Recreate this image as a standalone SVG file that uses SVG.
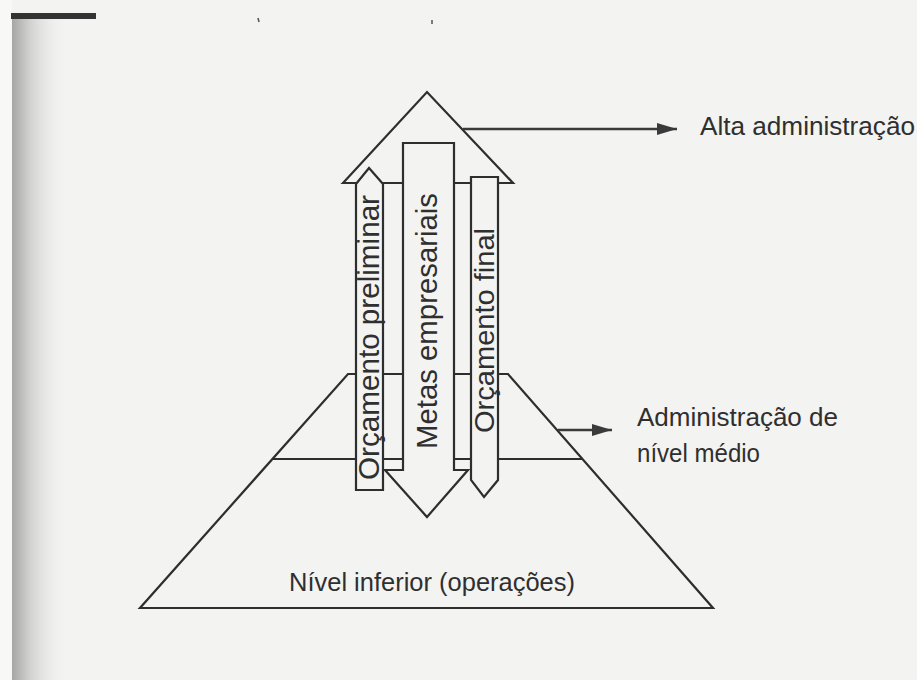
<svg xmlns="http://www.w3.org/2000/svg" width="917" height="680" viewBox="0 0 917 680">
  <defs>
    <linearGradient id="edge" x1="0" y1="0" x2="1" y2="0">
      <stop offset="0" stop-color="#a6a6a6"/>
      <stop offset="0.3" stop-color="#cfcfcd"/>
      <stop offset="1" stop-color="#f3f3f1" stop-opacity="0"/>
    </linearGradient>
    <marker id="head" viewBox="0 0 20 12" refX="20" refY="6" markerWidth="20" markerHeight="12" markerUnits="userSpaceOnUse" orient="auto">
      <path d="M0,0 L20,6 L0,12 Z" fill="#3a3a3a"/>
    </marker>
    <style>
      .ln { fill: none; stroke: #2e2e2e; stroke-width: 2.2; stroke-linejoin: miter; }
      .sh { fill: #f3f3f1; stroke: #2e2e2e; stroke-width: 2.2; stroke-linejoin: miter; }
      .cn { fill: none; stroke: #3a3a3a; stroke-width: 2.4; }
      .tx { font-family: "Liberation Sans", Arial, sans-serif; fill: #2f2f2f; }
      .lb { font-size: 25px; }
      .ar { font-size: 29px; }
    </style>
  </defs>

  <rect x="0" y="0" width="917" height="680" fill="#f3f3f1"/>
  <rect x="0" y="0" width="12" height="680" fill="#f8f8f7"/>
  <rect x="12" y="14" width="56" height="666" fill="url(#edge)"/>
  <rect x="11" y="13" width="85" height="6" fill="#333"/>
  <line x1="258" y1="18" x2="259" y2="22" stroke="#555" stroke-width="1.5"/>
  <line x1="432" y1="20" x2="432" y2="24" stroke="#555" stroke-width="1.5"/>

  <g id="nivel-inferior">
    <polygon class="ln" points="348,374 508,374 713,608 140,608"/>
    <text class="tx lb" x="289" y="591" textLength="286" lengthAdjust="spacingAndGlyphs">Nível inferior (operações)</text>
  </g>

  <g id="nivel-medio">
    <line class="ln" x1="272" y1="459" x2="583" y2="459"/>
    <text class="tx lb" x="637" y="426" textLength="201" lengthAdjust="spacingAndGlyphs">Administração de</text>
    <text class="tx lb" x="637" y="462" textLength="123" lengthAdjust="spacingAndGlyphs">nível médio</text>
  </g>

  <g id="alta-administracao">
    <polygon class="sh" points="343,183 427,92 513,183"/>
    <text class="tx lb" x="700" y="135" textLength="215" lengthAdjust="spacingAndGlyphs">Alta administração</text>
  </g>

  <g id="orcamento-preliminar">
    <polygon class="sh" points="356,490 356,184 369,168 383,184 383,490"/>
    <text class="tx ar" transform="translate(379,480) rotate(-90)" textLength="285" lengthAdjust="spacingAndGlyphs">Orçamento preliminar</text>
  </g>

  <g id="metas-empresariais">
    <polygon class="sh" points="403,143 454,143 454,470 468,470 427,517 385,470 403,470"/>
    <text class="tx ar" transform="translate(437,449) rotate(-90)" textLength="256" lengthAdjust="spacingAndGlyphs">Metas empresariais</text>
  </g>

  <g id="orcamento-final">
    <polygon class="sh" points="471,177 498,177 498,480 484,497 471,480"/>
    <text class="tx ar" style="font-size:28px" transform="translate(494,433) rotate(-90)" textLength="205" lengthAdjust="spacingAndGlyphs">Orçamento final</text>
  </g>

  <g id="connectors">
    <line class="cn" x1="463" y1="129" x2="677" y2="129" marker-end="url(#head)"/>
    <line class="cn" x1="558" y1="430" x2="612" y2="430" marker-end="url(#head)"/>
  </g>
</svg>
